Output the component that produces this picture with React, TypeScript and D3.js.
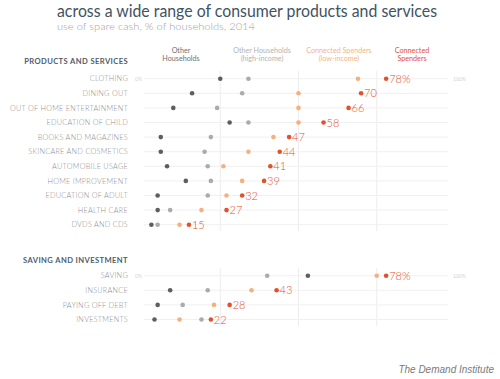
import React from "react";
import * as d3 from "d3";

const title = "across a wide range of consumer products and services";
const subtitle = "use of spare cash, % of households, 2014";
const source = "The Demand Institute";

const sectionTitles = ["PRODUCTS AND SERVICES", "SAVING AND INVESTMENT"];

const categoriesPS = [
  "CLOTHING",
  "DINING OUT",
  "OUT OF HOME ENTERTAINMENT",
  "EDUCATION OF CHILD",
  "BOOKS AND MAGAZINES",
  "SKINCARE AND COSMETICS",
  "AUTOMOBILE USAGE",
  "HOME IMPROVEMENT",
  "EDUCATION OF ADULT",
  "HEALTH CARE",
  "DVDS AND CDS",
];
const otherPS = [25, 16, 10, 28, 6, 6, 8, 14, 5, 5, 3];
const otherHighPS = [34, 32, 24, 34, 22, 20, 21, 22, 21, 9, 5];
const connLowPS = [69, 50, 50, 50, 42, 34, 26, 32, 27, 19, 12];
const connPS = [78, 70, 66, 58, 47, 44, 41, 39, 32, 27, 15];

const categoriesSI = ["SAVING", "INSURANCE", "PAYING OFF DEBT", "INVESTMENTS"];
const otherSI = [53, 9, 5, 4];
const otherHighSI = [40, 21, 13, 19];
const connLowSI = [75, 35, 23, 12];
const connSI = [78, 43, 28, 22];

const seriesNames = [
  ["Other", "Households"],
  ["Other Households", "(high-income)"],
  ["Connected Spenders", "(low-income)"],
  ["Connected", "Spenders"],
];
const seriesColors = ["#5b5f63", "#ababab", "#f5b07c", "#e2512c"];
const legendTextColors = ["#707070", "#b3b3b3", "#f2b58a", "#e2512c"];
const legendX = [181, 262, 339, 412];

const gridTicks = [25, 50, 75];

const FONT = "Lato, 'Open Sans', sans-serif";

export default function App() {
  const x = d3.scaleLinear().domain([0, 100]).range([142, 455]);
  const yPS = d3.scalePoint<string>().domain(categoriesPS).range([78.7, 224.7]);
  const ySI = d3.scalePoint<string>().domain(categoriesSI).range([275.7, 319.5]);

  const sections = [
    {
      cats: categoriesPS,
      y: yPS,
      series: [otherPS, otherHighPS, connLowPS, connPS],
      header: sectionTitles[0],
      headerY: 61,
      gridTop: 71,
      gridBottom: 231,
    },
    {
      cats: categoriesSI,
      y: ySI,
      series: [otherSI, otherHighSI, connLowSI, connSI],
      header: sectionTitles[1],
      headerY: 260,
      gridTop: 268,
      gridBottom: 326,
    },
  ];

  return (
    <svg
      width={500}
      height={379}
      style={{ position: "absolute", left: 0, top: 0, background: "#fff" }}
      fontFamily={FONT}
    >
      <text x={57} y={17} fontSize={16.5} fontWeight={400} fill="#3f5363" textLength={380} lengthAdjust="spacingAndGlyphs">
        {title}
      </text>
      <text x={57} y={30} fontSize={10.5} fontWeight={300} fill="#a3a3a3" textLength={198} lengthAdjust="spacingAndGlyphs">
        {subtitle}
      </text>

      {seriesNames.map((lines, i) => (
        <text key={i} x={legendX[i]} textAnchor="middle" fontSize={7.2} fill={legendTextColors[i]}>
          <tspan x={legendX[i]} y={53}>{lines[0]}</tspan>
          <tspan x={legendX[i]} y={61}>{lines[1]}</tspan>
        </text>
      ))}

      {sections.map((s, si) => (
        <g key={si}>
          <text
            x={128}
            y={s.headerY + 3}
            textAnchor="end"
            fontSize={7.6}
            fontWeight={700}
            fill="#4f5d69"
            letterSpacing={0.4}
          >
            {s.header}
          </text>
          {gridTicks.map((t) => (
            <line
              key={t}
              x1={x(t)}
              x2={x(t)}
              y1={s.gridTop}
              y2={s.gridBottom}
              stroke="#ededed"
              strokeWidth={1}
            />
          ))}
          {s.cats.map((c, ci) => {
            const yy = s.y(c)!;
            return (
              <g key={c}>
                <line x1={x(0) + 2} x2={x(100) - 7} y1={yy} y2={yy} stroke="#f0f0f0" strokeWidth={1} />
                <text
                  x={128}
                  y={yy + 2.6}
                  textAnchor="end"
                  fontSize={7.3}
                  fontWeight={300}
                  fill="#8f8f8f"
                  letterSpacing={0.25}
                >
                  {c}
                </text>
                {ci === 0 && (
                  <>
                    <text x={x(0)} y={yy + 2} textAnchor="end" fontSize={5} fill="#d2d2d2">
                      0%
                    </text>
                    <text x={x(100) - 2} y={yy + 2} fontSize={5} fill="#d2d2d2">
                      100%
                    </text>
                  </>
                )}
                {s.series.map((vals, k) => (
                  <circle key={k} cx={x(vals[ci])} cy={yy} r={2.3} fill={seriesColors[k]} />
                ))}
                <text
                  x={x(s.series[3][ci]) + 3}
                  y={yy + 4}
                  fontSize={11}
                  fontWeight={300}
                  fill="#e2512c"
                >
                  {s.series[3][ci]}
                  {ci === 0 ? "%" : ""}
                </text>
              </g>
            );
          })}
        </g>
      ))}

      <text
        x={494}
        y={373}
        textAnchor="end"
        fontSize={10}
        fontStyle="italic"
        fill="#7a7a7a"
        fontFamily="'Liberation Sans', Arial, sans-serif"
      >
        {source}
      </text>
    </svg>
  );
}
